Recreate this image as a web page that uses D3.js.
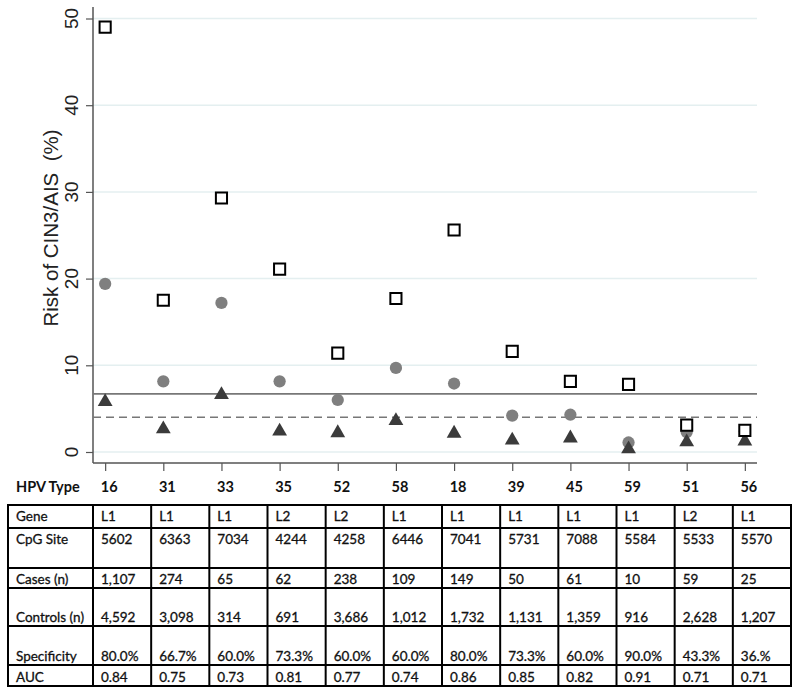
<!DOCTYPE html>
<html>
<head>
<meta charset="utf-8">
<script src="https://cdn.jsdelivr.net/npm/d3@7"></script>
<style>
  html, body { margin: 0; padding: 0; background: #fff; }
  svg { display: block; }
</style>
</head>
<body>
<svg id="chart" width="800" height="694"></svg>
<script>
// ---------------- DATA ----------------
const hpvTypes = ["16", "31", "33", "35", "52", "58", "18", "39", "45", "59", "51", "56"];
const riskPositive = [49.0, 17.5, 29.3, 21.1, 11.4, 17.7, 25.6, 11.6, 8.15, 7.8, 3.1, 2.5];   // open squares
const riskOverall  = [19.4, 8.15, 17.2, 8.15, 6.0, 9.7, 7.9, 4.2, 4.3, 1.1, 2.3, 2.4];        // gray circles
const riskNegative = [5.8, 2.65, 6.6, 2.4, 2.2, 3.6, 2.15, 1.35, 1.6, 0.35, 1.15, 1.25];     // dark triangles
const refSolid = 6.7;
const refDashed = 4.0;
const yTicks = [0, 10, 20, 30, 40, 50];

const rowLabels = ["Gene", "CpG Site", "Cases (n)", "Controls (n)", "Specificity", "AUC"];
const gene        = ["L1", "L1", "L1", "L2", "L2", "L1", "L1", "L1", "L1", "L1", "L2", "L1"];
const cpgSite     = ["5602", "6363", "7034", "4244", "4258", "6446", "7041", "5731", "7088", "5584", "5533", "5570"];
const cases       = ["1,107", "274", "65", "62", "238", "109", "149", "50", "61", "10", "59", "25"];
const controls    = ["4,592", "3,098", "314", "691", "3,686", "1,012", "1,732", "1,131", "1,359", "916", "2,628", "1,207"];
const specificity = ["80.0%", "66.7%", "60.0%", "73.3%", "60.0%", "60.0%", "80.0%", "73.3%", "60.0%", "90.0%", "43.3%", "36.%"];
const auc         = ["0.84", "0.75", "0.73", "0.81", "0.77", "0.74", "0.86", "0.85", "0.82", "0.91", "0.71", "0.71"];

// ---------------- LAYOUT ----------------
const svg = d3.select("#chart");
const plotLeft = 93, plotRight = 757, plotTop = 7, plotBottom = 463;

const x = d3.scalePoint().domain(hpvTypes).range([plotLeft, plotRight]).padding(0.209);
const y = d3.scaleLinear().domain([0, 50]).range([452, 18.5]);

svg.append("rect").attr("width", 800).attr("height", 694).attr("fill", "#fff");

// grid
svg.append("g").selectAll("line").data(yTicks).join("line")
  .attr("x1", plotLeft).attr("x2", plotRight)
  .attr("y1", d => y(d)).attr("y2", d => y(d))
  .attr("stroke", "#e4eff0").attr("stroke-width", 1.5);

// axes
const yAxis = svg.append("g").attr("transform", `translate(${plotLeft},0)`)
  .call(d3.axisLeft(y).tickValues(yTicks).tickSize(7).tickFormat(""));
yAxis.select(".domain").remove();
yAxis.selectAll(".tick line").attr("stroke", "#555").attr("stroke-width", 1.2);

const xAxis = svg.append("g").attr("transform", `translate(0,${plotBottom})`)
  .call(d3.axisBottom(x).tickSize(8).tickFormat(""));
xAxis.select(".domain").remove();
xAxis.selectAll(".tick line").attr("stroke", "#555").attr("stroke-width", 1.2);

svg.append("line").attr("x1", plotLeft).attr("x2", plotLeft).attr("y1", plotTop).attr("y2", plotBottom)
  .attr("stroke", "#555").attr("stroke-width", 1.5);
svg.append("line").attr("x1", plotLeft).attr("x2", plotRight).attr("y1", plotBottom).attr("y2", plotBottom)
  .attr("stroke", "#555").attr("stroke-width", 1.5);

// y tick labels (rotated)
svg.append("g").selectAll("text").data(yTicks).join("text")
  .attr("transform", d => `translate(78,${y(d)}) rotate(-90)`)
  .attr("text-anchor", "middle")
  .attr("font-family", "Liberation Sans, Arial, sans-serif")
  .attr("font-size", 19).attr("fill", "#222")
  .text(d => d);

// y title
svg.append("text")
  .attr("transform", "translate(58,228) rotate(-90)")
  .attr("text-anchor", "middle")
  .attr("font-family", "Liberation Sans, Arial, sans-serif")
  .attr("font-size", 20.5).attr("fill", "#222")
  .style("white-space", "pre")
  .text("Risk of CIN3/AIS  (%)");

// reference lines
svg.append("line").attr("x1", plotLeft).attr("x2", plotRight)
  .attr("y1", y(refSolid)).attr("y2", y(refSolid))
  .attr("stroke", "#777").attr("stroke-width", 1.6);
svg.append("line").attr("x1", plotLeft).attr("x2", plotRight)
  .attr("y1", y(refDashed)).attr("y2", y(refDashed))
  .attr("stroke", "#777").attr("stroke-width", 1.6).attr("stroke-dasharray", "8,5");

// markers
const circ = d3.symbol().type(d3.symbolCircle).size(118);
const tri = d3.symbol().type(d3.symbolTriangle).size(95);
const sq = d3.symbol().type(d3.symbolSquare).size(124);

svg.append("g").selectAll("path").data(hpvTypes).join("path")
  .attr("d", circ).attr("transform", (d, i) => `translate(${x(d)},${y(riskOverall[i])})`)
  .attr("fill", "#7f7f7f");
svg.append("g").selectAll("path").data(hpvTypes).join("path")
  .attr("d", tri).attr("transform", (d, i) => `translate(${x(d)},${y(riskNegative[i])})`)
  .attr("fill", "#3b3b3b");
svg.append("g").selectAll("path").data(hpvTypes).join("path")
  .attr("d", sq).attr("transform", (d, i) => `translate(${x(d)},${y(riskPositive[i])})`)
  .attr("fill", "#fff").attr("stroke", "#000").attr("stroke-width", 2);

// HPV Type row
const boldFont = "Lato, Liberation Sans, sans-serif";
svg.append("text").attr("x", 16).attr("y", 492)
  .attr("font-family", boldFont).attr("font-weight", "bold").attr("font-size", 14.5).attr("fill", "#111")
  .text("HPV Type");
svg.append("g").selectAll("text").data(hpvTypes).join("text")
  .attr("x", d => x(d) + 4).attr("y", 492)
  .attr("text-anchor", "middle")
  .attr("font-family", boldFont).attr("font-weight", "bold").attr("font-size", 14.5).attr("fill", "#111")
  .text(d => d);

// ---------------- TABLE ----------------
const tableLeft = 8, firstColRight = 93, tableRight = 791;
const rowEdges = [505, 528, 568, 588, 626, 665, 686];
const rowAlign = ["top", "top", "bottom", "bottom", "bottom", "bottom"];
const rowData = [gene, cpgSite, cases, controls, specificity, auc];
const colX = d3.scaleBand().domain(hpvTypes).range([firstColRight, tableRight]).padding(0);

const tbl = svg.append("g");
// horizontal borders
tbl.selectAll("line.h").data(rowEdges).join("line").attr("class", "h")
  .attr("x1", tableLeft - 1).attr("x2", tableRight + 1)
  .attr("y1", d => d).attr("y2", d => d)
  .attr("stroke", "#000").attr("stroke-width", 2);
// vertical borders
const colEdges = [tableLeft, ...hpvTypes.map(t => colX(t)), tableRight];
tbl.selectAll("line.v").data(colEdges).join("line").attr("class", "v")
  .attr("x1", d => d).attr("x2", d => d)
  .attr("y1", rowEdges[0]).attr("y2", rowEdges[rowEdges.length - 1])
  .attr("stroke", "#000").attr("stroke-width", 2);

const tableFont = "Lato, Liberation Sans, sans-serif";
function baseline(r) {
  return rowAlign[r] === "top" ? rowEdges[r] + 16 : rowEdges[r + 1] - 4.5;
}
rowLabels.forEach((lab, r) => {
  tbl.append("text").attr("x", tableLeft + 8).attr("y", baseline(r))
    .attr("font-family", tableFont).attr("font-size", 13.5).attr("fill", "#111")
    .attr("stroke", "#111").attr("stroke-width", 0.3)
    .text(lab);
  tbl.append("g").selectAll("text").data(rowData[r]).join("text")
    .attr("x", (d, i) => colX(hpvTypes[i]) + 8).attr("y", baseline(r))
    .attr("font-family", tableFont).attr("font-size", 13.5).attr("fill", "#111")
    .attr("stroke", "#111").attr("stroke-width", 0.3)
    .text(d => d);
});
</script>
</body>
</html>
